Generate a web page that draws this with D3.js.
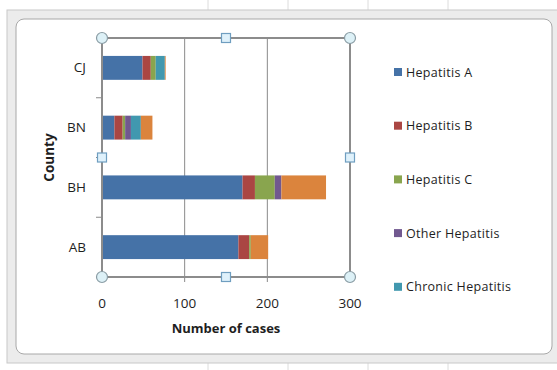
<!DOCTYPE html>
<html>
<head>
<meta charset="utf-8">
<script src="https://cdn.jsdelivr.net/npm/d3@7"></script>
<style>
  body { margin: 0; background: #fff; }
  svg text { font-family: "Open Sans", "Noto Sans", sans-serif; fill: #1e1e1e; }
</style>
</head>
<body>
<script>
// chart values
const counties = ["CJ", "BN", "BH", "AB"];
const seriesNames = ["Hepatitis A", "Hepatitis B", "Hepatitis C", "Other Hepatitis", "Chronic Hepatitis", "Hepatitis Unknown"];
const hepA = [49, 15, 170, 165];
const hepB = [10, 10, 15, 13];
const hepC = [6, 3, 24, 2];
const hepOther = [0, 7, 8, 0];
const hepChronic = [11, 12, 0, 0];
const hepUnknown = [1, 14, 54, 21];
const xTicks = [0, 100, 200, 300];
const colors = ["#4572a7", "#aa4643", "#89a54e", "#71588f", "#4198af", "#db843d"];

const W = 557, H = 370;
const margin = { top: 38, left: 102, right: 207, bottom: 93 };
const plotW = W - margin.left - margin.right;
const plotH = H - margin.top - margin.bottom - 0;

const svg = d3.select("body").append("svg")
  .attr("width", W)
  .attr("height", H);

// worksheet background and the selected chart frame
const sheetLines = [208, 288, 368, 448];
svg.selectAll(".sheet-line").data(sheetLines).enter().append("line")
  .attr("x1", d => d).attr("x2", d => d).attr("y1", 0).attr("y2", H)
  .attr("stroke", "#dcdcdc");
svg.append("rect")
  .attr("x", 7).attr("y", 10).attr("width", W).attr("height", 353)
  .attr("fill", "#ececec").attr("stroke", "#c8c8c8");
svg.append("rect")
  .attr("x", 16).attr("y", 19).attr("width", W - 21).attr("height", 335)
  .attr("rx", 8).attr("fill", "#fff").attr("stroke", "#a8a8a8");

const rows = counties.map((c, i) => ({
  county: c,
  v: [hepA[i], hepB[i], hepC[i], hepOther[i], hepChronic[i], hepUnknown[i]]
}));
const stacked = d3.stack()
  .keys(d3.range(seriesNames.length))
  .value((d, k) => d.v[k])(rows);

const x = d3.scaleLinear().domain([0, 300]).range([margin.left, margin.left + plotW]);
const y = d3.scaleBand().domain(counties).range([margin.top, margin.top + plotH]).paddingInner(0.6).paddingOuter(0.3);
const yb = d3.scaleBand().domain(counties).range([margin.top, margin.top + plotH]);

// gridlines
svg.append("g").selectAll("line").data(xTicks.slice(1, -1)).enter().append("line")
  .attr("x1", d => x(d)).attr("x2", d => x(d))
  .attr("y1", margin.top).attr("y2", margin.top + plotH)
  .attr("stroke", "#8a8a8a").attr("stroke-width", 1);

// bars
svg.append("g").selectAll("g").data(stacked).enter().append("g")
  .attr("fill", (d, i) => colors[i])
  .selectAll("rect").data(d => d).enter().append("rect")
  .attr("x", d => x(d[0]))
  .attr("y", d => y(d.data.county))
  .attr("width", d => x(d[1]) - x(d[0]))
  .attr("height", y.bandwidth());

// y axis ticks between categories
const yTickPos = counties.slice(1).map(c => yb(c));
svg.append("g").selectAll("line").data(yTickPos).enter().append("line")
  .attr("x1", margin.left - 6).attr("x2", margin.left)
  .attr("y1", d => d).attr("y2", d => d)
  .attr("stroke", "#8a8a8a");

// x axis ticks
svg.append("g").selectAll("line").data(xTicks).enter().append("line")
  .attr("x1", d => x(d)).attr("x2", d => x(d))
  .attr("y1", margin.top + plotH).attr("y2", margin.top + plotH + 5)
  .attr("stroke", "#8a8a8a");

// selected plot area frame
svg.append("rect")
  .attr("x", margin.left).attr("y", margin.top)
  .attr("width", plotW).attr("height", plotH)
  .attr("fill", "none").attr("stroke", "#8c8c8c").attr("stroke-width", 2);

// x tick labels
svg.append("g").selectAll("text").data(xTicks).enter().append("text")
  .attr("x", d => x(d)).attr("y", margin.top + plotH + 31)
  .attr("text-anchor", "middle").attr("font-size", 13.5)
  .text(d => d);

// category labels
svg.append("g").selectAll("text").data(counties).enter().append("text")
  .attr("x", margin.left - 16)
  .attr("y", d => yb(d) + yb.bandwidth() / 2 + 4.5)
  .attr("text-anchor", "end").attr("font-size", 13.5)
  .text(d => d);

// axis titles
svg.append("text")
  .attr("x", margin.left + plotW / 2).attr("y", 333)
  .attr("text-anchor", "middle").attr("font-size", 13).attr("font-weight", "bold")
  .text("Number of cases");
svg.append("text")
  .attr("transform", `translate(54, ${margin.top + plotH / 2}) rotate(-90)`)
  .attr("text-anchor", "middle").attr("font-size", 13.5).attr("font-weight", "bold")
  .text("County");

// selection handles
const x0 = margin.left, x1 = margin.left + plotW, xm = (x0 + x1) / 2;
const y0 = margin.top, y1 = margin.top + plotH, ym = (y0 + y1) / 2;
const corners = [[x0, y0], [x1, y0], [x0, y1], [x1, y1]];
const sides = [[xm, y0], [xm, y1], [x0, ym], [x1, ym]];
svg.append("g").selectAll("circle").data(corners).enter().append("circle")
  .attr("cx", d => d[0]).attr("cy", d => d[1]).attr("r", 5.5)
  .attr("fill", "#ddf1f7").attr("stroke", "#8a9ca4").attr("stroke-width", 1.2);
svg.append("g").selectAll("rect").data(sides).enter().append("rect")
  .attr("x", d => d[0] - 4.5).attr("y", d => d[1] - 4.5)
  .attr("width", 9).attr("height", 9)
  .attr("fill", "#dff1fb").attr("stroke", "#6f9ec0").attr("stroke-width", 1.2);

// legend (last entry falls outside the chart area, like the original)
const legend = svg.append("g").selectAll("g").data(seriesNames.slice(0, 5)).enter().append("g")
  .attr("transform", (d, i) => `translate(394, ${72 + i * 53.7})`);
legend.append("rect")
  .attr("x", 0).attr("y", -4).attr("width", 8).attr("height", 8)
  .attr("fill", (d, i) => colors[i]);
legend.append("text")
  .attr("x", 12).attr("y", 4.5).attr("font-size", 12.5)
  .attr("letter-spacing", 0.3)
  .text(d => d);
</script>
</body>
</html>
